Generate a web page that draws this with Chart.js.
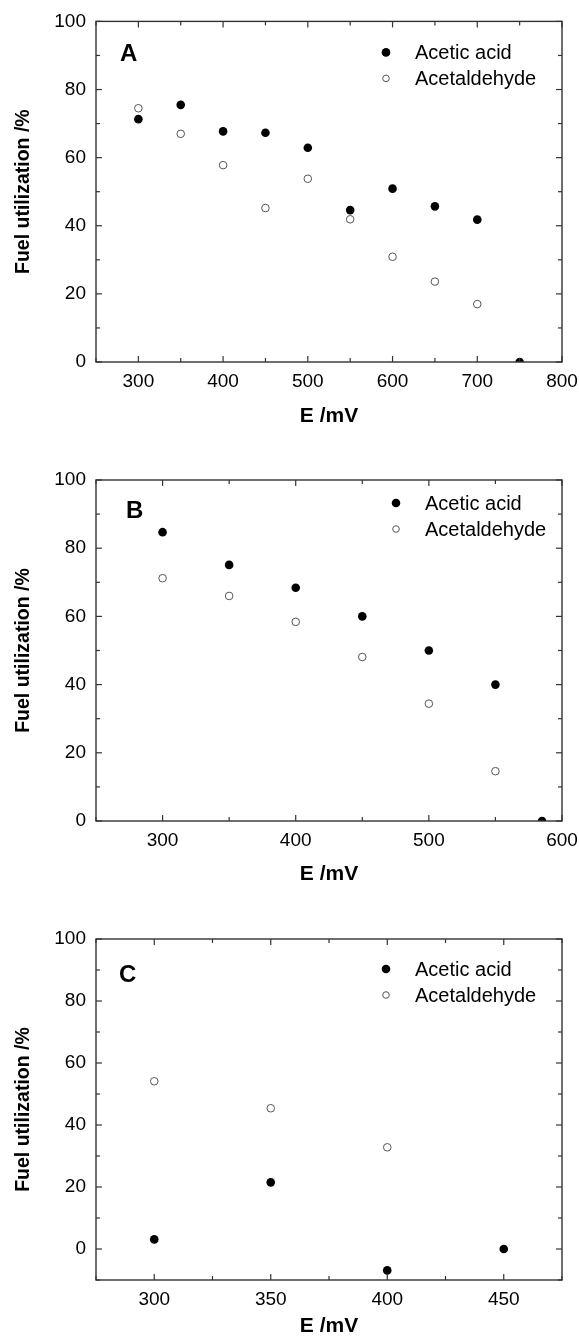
<!DOCTYPE html>
<html>
<head>
<meta charset="utf-8">
<script src="https://cdn.jsdelivr.net/npm/chart.js@4"></script>
<style>
  body { margin: 0; background: #fff; }
  canvas { position: absolute; left: 0; }
</style>
</head>
<body>
<canvas id="chartA" width="579" height="430" style="top:0px"></canvas>
<canvas id="chartB" width="579" height="460" style="top:430px"></canvas>
<canvas id="chartC" width="579" height="461" style="top:880px"></canvas>
<script>
// ---- data ----
// Panel A
const aceticXA = [300, 350, 400, 450, 500, 550, 600, 650, 700, 750];
const aceticA = [71.3, 75.5, 67.7, 67.3, 62.9, 44.6, 50.9, 45.7, 41.8, 0];
const aldehydeXA = [300, 350, 400, 450, 500, 550, 600, 650, 700];
const aldehydeA = [74.5, 67.0, 57.8, 45.2, 53.8, 41.9, 30.9, 23.6, 17.0];
const xTicksA = [300, 400, 500, 600, 700, 800];
const xMinorA = [250, 350, 450, 550, 650, 750];

// Panel B
const aceticXB = [300, 350, 400, 450, 500, 550, 585];
const aceticB = [84.7, 75.1, 68.4, 60.0, 50.0, 40.0, 0];
const aldehydeXB = [300, 350, 400, 450, 500, 550];
const aldehydeB = [71.2, 66.0, 58.4, 48.1, 34.4, 14.6];
const xTicksB = [300, 400, 500, 600];
const xMinorB = [250, 350, 450, 550];

// Panel C
const aceticXC = [300, 350, 400, 450];
const aceticC = [3.1, 21.5, -6.9, 0];
const aldehydeXC = [300, 350, 400];
const aldehydeC = [54.1, 45.4, 32.8];
const xTicksC = [300, 350, 400, 450];
const xMinorC = [275, 325, 375, 425, 475];

const yTicks = [0, 20, 40, 60, 80, 100];
const yMinor = [10, 30, 50, 70, 90];
const yMinorC = [-10, 10, 30, 50, 70, 90];

const seriesNames = ['Acetic acid', 'Acetaldehyde'];

const FONT = "'Liberation Sans', Arial, sans-serif";
const AXIS = '#333';

// frame box, inward ticks on four sides, legend and panel letter
const decor = {
  id: 'decor',
  afterDraw(chart, args, o) {
    const {ctx, chartArea: a, scales: {x, y}} = chart;
    ctx.save();
    ctx.strokeStyle = AXIS;
    ctx.lineWidth = 1.4;
    ctx.strokeRect(a.left, a.top, a.width, a.height);
    ctx.lineWidth = 1.2;
    const seg = (x1, y1, x2, y2) => { ctx.beginPath(); ctx.moveTo(x1, y1); ctx.lineTo(x2, y2); ctx.stroke(); };
    const xMarks = (vals, len) => vals.forEach(v => {
      const p = x.getPixelForValue(v);
      seg(p, a.bottom, p, a.bottom - len);
      seg(p, a.top, p, a.top + len);
    });
    const yMarks = (vals, len) => vals.forEach(v => {
      const p = y.getPixelForValue(v);
      seg(a.left, p, a.left + len, p);
      seg(a.right, p, a.right - len, p);
    });
    xMarks(o.xMajor, 6); xMarks(o.xMinor, 4);
    yMarks(o.yMajor, 6); yMarks(o.yMinor, 4);

    // legend
    ctx.font = '20px ' + FONT;
    ctx.textBaseline = 'middle';
    chart.data.datasets.forEach((ds, i) => {
      const mx = a.left + o.legendX;
      const my = a.top + o.legendY[i];
      ctx.beginPath();
      ctx.arc(mx, my, i === 0 ? 4.3 : 3.3, 0, Math.PI * 2);
      ctx.fillStyle = ds.pointBackgroundColor;
      ctx.fill();
      if (i === 1) { ctx.strokeStyle = ds.pointBorderColor; ctx.lineWidth = 1; ctx.stroke(); }
      ctx.fillStyle = '#000';
      ctx.textAlign = 'left';
      ctx.fillText(ds.label, mx + 29, my + 1);
    });

    // panel letter
    ctx.font = 'bold 24px ' + FONT;
    ctx.fillText(o.letter, a.left + o.letterX, a.top + o.letterY);
    ctx.restore();
  }
};

function makePanel(id, p) {
  new Chart(document.getElementById(id), {
    type: 'scatter',
    data: {
      datasets: [{
        label: seriesNames[0],
        data: p.aceticX.map((v, i) => ({x: v, y: p.acetic[i]})),
        pointRadius: 4.3,
        pointBackgroundColor: '#000',
        pointBorderColor: '#000',
        pointBorderWidth: 0,
        clip: 0
      }, {
        label: seriesNames[1],
        data: p.aldehydeX.map((v, i) => ({x: v, y: p.aldehyde[i]})),
        pointRadius: 3.8,
        pointBackgroundColor: '#fff',
        pointBorderColor: '#555',
        pointBorderWidth: 1,
        clip: 0
      }]
    },
    options: {
      responsive: false,
      animation: false,
      devicePixelRatio: 1,
      layout: { padding: { top: p.top, right: 17, left: 0, bottom: 0 } },
      plugins: {
        legend: { display: false },
        tooltip: { enabled: false },
        decor: {
          xMajor: p.xTicks, xMinor: p.xMinor,
          yMajor: yTicks, yMinor: p.yMinor,
          legendX: p.legendX, legendY: p.legendY,
          letter: p.letter, letterX: p.letterX, letterY: p.letterY
        }
      },
      scales: {
        x: {
          type: 'linear',
          min: p.xMin, max: p.xMax,
          grid: { display: false, drawTicks: false },
          border: { display: false },
          afterBuildTicks: s => { s.ticks = p.xTicks.map(v => ({value: v})); },
          afterFit: s => { s.height = p.xHeight; s.paddingLeft = 0; s.paddingRight = 0; },
          ticks: { color: '#000', padding: 8, font: { family: FONT, size: 19 } },
          title: {
            display: true, text: 'E /mV', color: '#000',
            padding: { top: 0, bottom: p.titlePad },
            font: { family: FONT, size: 21, weight: 'bold' }
          }
        },
        y: {
          type: 'linear',
          min: p.yMin, max: 100,
          grid: { display: false, drawTicks: false },
          border: { display: false },
          afterBuildTicks: s => { s.ticks = yTicks.map(v => ({value: v})); },
          afterFit: s => { s.width = 96; },
          ticks: { color: '#000', padding: 10, font: { family: FONT, size: 19 } },
          title: {
            display: true, text: 'Fuel utilization /%', color: '#000',
            padding: { top: 12, bottom: 0 },
            font: { family: FONT, size: 19.5, weight: 'bold' }
          }
        }
      }
    },
    plugins: [decor]
  });
}

makePanel('chartA', {
  aceticX: aceticXA, acetic: aceticA, aldehydeX: aldehydeXA, aldehyde: aldehydeA,
  xTicks: xTicksA, xMinor: xMinorA, yMinor: yMinor,
  xMin: 250, xMax: 800, yMin: 0,
  top: 20, xHeight: 68, titlePad: 1,
  legendX: 290, legendY: [31, 57],
  letter: 'A', letterX: 24, letterY: 33
});

makePanel('chartB', {
  aceticX: aceticXB, acetic: aceticB, aldehydeX: aldehydeXB, aldehyde: aldehydeB,
  xTicks: xTicksB, xMinor: xMinorB, yMinor: yMinor,
  xMin: 250, xMax: 600, yMin: 0,
  top: 50, xHeight: 69, titlePad: 3,
  legendX: 300, legendY: [23, 49],
  letter: 'B', letterX: 30, letterY: 31
});

makePanel('chartC', {
  aceticX: aceticXC, acetic: aceticC, aldehydeX: aldehydeXC, aldehyde: aldehydeC,
  xTicks: xTicksC, xMinor: xMinorC, yMinor: yMinorC,
  xMin: 275, xMax: 475, yMin: -10,
  top: 59, xHeight: 61, titlePad: 2,
  legendX: 290, legendY: [30, 56],
  letter: 'C', letterX: 23, letterY: 36
});
</script>
</body>
</html>
